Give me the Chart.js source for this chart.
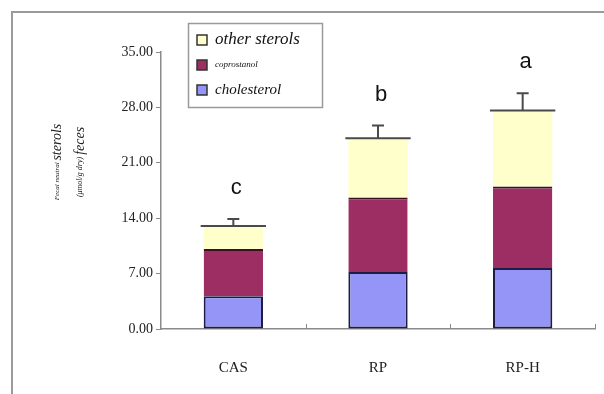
<!DOCTYPE html>
<html>
<head>
<meta charset="utf-8">
<script src="https://cdn.jsdelivr.net/npm/chart.js@4.4.3/dist/chart.umd.min.js"></script>
<style>
  html, body { margin: 0; padding: 0; background: #fff; }
  #wrap { width: 604px; height: 394px; position: relative; }
</style>
</head>
<body>
<div id="wrap"><canvas id="chart"></canvas></div>
<script>
// ── data ────────────────────────────────────────────────────────────────
const groups      = ['CAS', 'RP', 'RP-H'];
const cholesterol = [4.15, 7.2, 7.7];
const coprostanol = [5.95, 9.4, 10.3];
const otherSterols = [2.9, 7.5, 9.6];
const errors      = [0.9, 1.6, 2.2];
const letters     = ['c', 'b', 'a'];
const yTicks      = [0, 7, 14, 21, 28, 35];

const serif = "'Liberation Serif', 'DejaVu Serif', serif";
const axisGray = '#8a8a8a';

// ── decorations ─────────────────────────────────────────────────────────
const framePlugin = {
  id: 'frame',
  beforeDraw(chart) {
    const c = chart.ctx;
    c.save();
    c.strokeStyle = '#9a9a9a';
    c.lineWidth = 2;
    c.beginPath();
    c.moveTo(12, chart.height);
    c.lineTo(12, 12);
    c.lineTo(chart.width, 12);
    c.stroke();
    c.restore();
  },
};

// inward x ticks at category boundaries
const xTicksPlugin = {
  id: 'xTicks',
  afterDraw(chart) {
    const a = chart.chartArea, c = chart.ctx;
    const step = (a.right - a.left) / groups.length;
    c.save();
    c.strokeStyle = axisGray;
    c.lineWidth = 1;
    for (let i = 1; i <= groups.length; i++) {
      const px = Math.round(a.left + step * i) + 0.5;
      c.beginPath();
      c.moveTo(px, a.bottom);
      c.lineTo(px, a.bottom - 5);
      c.stroke();
    }
    c.restore();
  },
};

// error bars + significance letters
const errPlugin = {
  id: 'errBars',
  afterDatasetsDraw(chart) {
    const c = chart.ctx, y = chart.scales.y;
    const meta = chart.getDatasetMeta(2);
    c.save();
    meta.data.forEach((bar, i) => {
      const total = cholesterol[i] + coprostanol[i] + otherSterols[i];
      const yTop = y.getPixelForValue(total);
      const yErr = y.getPixelForValue(total + errors[i]);
      const half = bar.width / 2;
      c.strokeStyle = '#4a4a4a';
      c.lineWidth = 2;
      c.beginPath();
      c.moveTo(bar.x - half - 3, yTop);
      c.lineTo(bar.x + half + 3, yTop);
      c.moveTo(bar.x, yTop);
      c.lineTo(bar.x, yErr);
      c.moveTo(bar.x - 6, yErr);
      c.lineTo(bar.x + 6, yErr);
      c.stroke();
      c.fillStyle = '#111';
      c.font = "22px 'Liberation Sans', Arial, sans-serif";
      c.textAlign = 'center';
      c.textBaseline = 'middle';
      c.fillText(letters[i], bar.x + 3, yErr - 31);
    });
    c.restore();
  },
};

// legend box (drawn over the plot, top-left)
const legendPlugin = {
  id: 'boxLegend',
  afterDraw(chart) {
    const c = chart.ctx;
    const ds = chart.data.datasets;
    const order = [2, 1, 0];
    const sizes = [17, 9, 15];
    c.save();
    c.fillStyle = '#fff';
    c.fillRect(188, 23, 134, 84);
    c.strokeStyle = '#9a9a9a';
    c.lineWidth = 1.5;
    c.strokeRect(188.5, 23.5, 134, 84);
    order.forEach((k, j) => {
      const cy = 40 + j * 25;
      c.fillStyle = ds[k].backgroundColor;
      c.fillRect(197, cy - 5, 10, 10);
      c.strokeStyle = '#333';
      c.lineWidth = 1.5;
      c.strokeRect(197, cy - 5, 10, 10);
      c.fillStyle = '#111';
      c.font = `italic ${sizes[j]}px ${serif}`;
      c.textAlign = 'left';
      c.textBaseline = 'middle';
      c.fillText(ds[k].label, 215, cy);
    });
    c.restore();
  },
};

// rotated y title with mixed sizes
const yTitlePlugin = {
  id: 'yTitle',
  afterDraw(chart) {
    const c = chart.ctx;
    const lines = [
      { x: 57, parts: [['Fecal neutral ', 7], ['sterols', 14]] },
      { x: 80, parts: [['(μmol/g dry) ', 8], ['feces', 14]] },
    ];
    c.save();
    lines.forEach(l => {
      let w = 0;
      l.parts.forEach(([t, s]) => { c.font = `italic ${s}px ${serif}`; w += c.measureText(t).width; });
      c.save();
      c.translate(l.x, 162);
      c.rotate(-Math.PI / 2);
      let x = -w / 2;
      c.fillStyle = '#222';
      c.textBaseline = 'middle';
      c.textAlign = 'left';
      l.parts.forEach(([t, s]) => {
        c.font = `italic ${s}px ${serif}`;
        c.fillText(t, x, 0);
        x += c.measureText(t).width;
      });
      c.restore();
    });
    c.restore();
  },
};

// ── chart ───────────────────────────────────────────────────────────────
new Chart(document.getElementById('chart'), {
  type: 'bar',
  data: {
    labels: groups,
    datasets: [
      {
        label: 'cholesterol',
        data: cholesterol,
        backgroundColor: '#9595f7',
        borderColor: '#1c1c44',
        borderWidth: 2,
        borderSkipped: false,
      },
      {
        label: 'coprostanol',
        data: coprostanol,
        backgroundColor: '#9c2e63',
        borderColor: '#3a1024',
        borderWidth: { top: 2, left: 0, right: 0, bottom: 0 },
        borderSkipped: false,
      },
      {
        label: 'other sterols',
        data: otherSterols,
        backgroundColor: '#ffffcc',
        borderWidth: 0,
      },
    ],
  },
  options: {
    responsive: true,
    maintainAspectRatio: false,
    animation: false,
    layout: { padding: { left: 0, right: 9, top: 52, bottom: 0 } },
    datasets: { bar: { categoryPercentage: 0.41, barPercentage: 1 } },
    plugins: { legend: { display: false }, tooltip: { enabled: false } },
    scales: {
      x: {
        stacked: true,
        offset: true,
        border: { color: axisGray, width: 1.5 },
        grid: { display: false },
        ticks: { color: '#222', font: { family: serif, size: 15 }, padding: 22 },
        afterFit: s => { s.height = 394 - 329; },
      },
      y: {
        stacked: true,
        min: 0,
        max: 35,
        afterBuildTicks: s => { s.ticks = yTicks.map(v => ({ value: v })); },
        border: { color: axisGray, width: 1.5 },
        grid: { drawOnChartArea: false, tickLength: 5, color: axisGray },
        ticks: {
          color: '#222',
          font: { family: serif, size: 14 },
          padding: 3,
          callback: v => Number(v).toFixed(2),
        },
        afterFit: s => { s.width = 161; },
      },
    },
  },
  plugins: [framePlugin, xTicksPlugin, errPlugin, legendPlugin, yTitlePlugin],
});
</script>
</body>
</html>
